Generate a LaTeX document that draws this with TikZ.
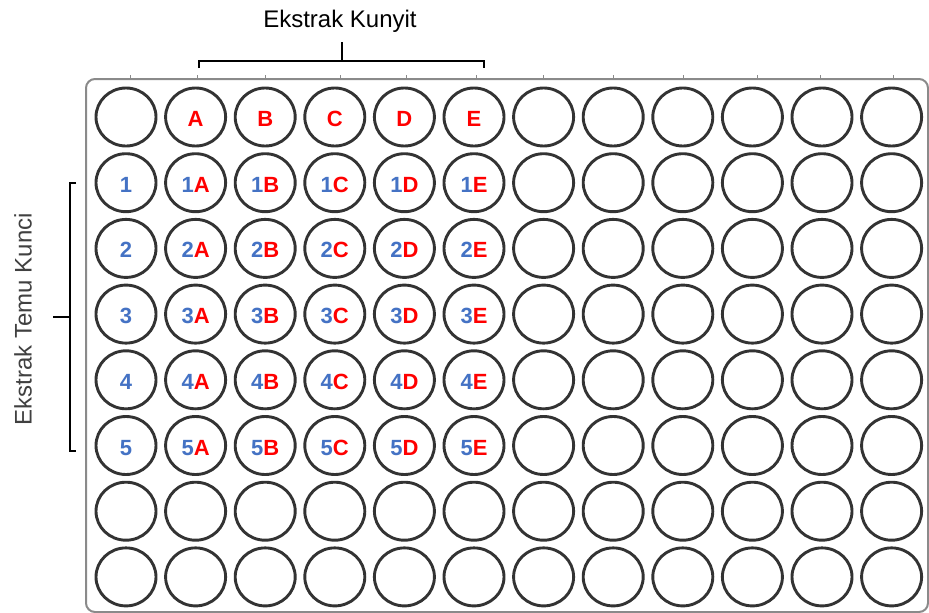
\documentclass[tikz,border=0pt]{standalone}
\usepackage{fontspec}
\setmainfont{Liberation Sans}
\usetikzlibrary{shapes.geometric}
\definecolor{wellblue}{HTML}{4472C4}
\definecolor{wellred}{HTML}{FF0000}
\definecolor{rim}{HTML}{333333}
\definecolor{plateedge}{HTML}{8A8A8A}
\definecolor{sidetext}{HTML}{404040}
\begin{document}
\begin{tikzpicture}[x=1pt,y=-1pt,
  well/.style={draw=rim,line width=2.9pt,ellipse,minimum width=60pt,minimum height=58pt,inner sep=0pt},
  lbl/.style={inner sep=0pt,text height=16pt,text depth=0pt,yshift=-1.5pt,font=\fontsize{22}{26}\selectfont\bfseries},
  bracket/.style={draw=black,line width=1.8pt},
  title/.style={inner sep=0pt,font=\fontsize{24}{28}\selectfont},
  tickmark/.style={draw=plateedge,line width=1pt}]
\useasboundingbox (0,0) rectangle (929,613);
\fill[white] (0,0) rectangle (929,613);
% plate
\draw[draw=plateedge,line width=2pt,rounded corners=9pt] (86,79) rectangle (928,612);
% small marks on the plate top edge
\foreach \x in {130,197,265,340,406,476,543,613,683,757,820,893}
  \draw[tickmark] (\x,75) -- (\x,78);
% wells
\foreach \c in {0,...,11}
  \foreach \r in {0,...,7}
    \node[well] (w-\r-\c) at ({126+69.6*\c},{117+65.7*\r}) {};
% row of letters
\foreach \L [count=\i] in {A,B,C,D,E}
  \node[lbl,text=wellred] (t-0-\i) at (w-0-\i) {\L};
% numbered rows
\foreach \n in {1,...,5} {
  \node[lbl,text=wellblue] (t-\n-0) at (w-\n-0) {\n};
  \foreach \L [count=\i] in {A,B,C,D,E}
    \node[lbl] (t-\n-\i) at (w-\n-\i) {\textcolor{wellblue}{\n}\textcolor{wellred}{\L}};
}
% top bracket
\coordinate (tb1) at (199,68);
\coordinate (tb2) at (199,61);
\coordinate (tb3) at (484,61);
\coordinate (tb4) at (484,68);
\coordinate (tbm) at (342,61);
\coordinate (tbt) at (342,42);
\draw[bracket] (tb1) -- (tb2) -- (tb3) -- (tb4);
\draw[bracket] (tbm) -- (tbt);
\node[title] (toplabel) at (340,21) {Ekstrak Kunyit};
% left bracket
\coordinate (lb1) at (76,183);
\coordinate (lb2) at (70,183);
\coordinate (lb3) at (70,451);
\coordinate (lb4) at (76,451);
\coordinate (lbm) at (70,317);
\coordinate (lbt) at (53,317);
\draw[bracket] (lb1) -- (lb2) -- (lb3) -- (lb4);
\draw[bracket] (lbm) -- (lbt);
\node[title,text=sidetext,rotate=90] (sidelabel) at (23,319) {Ekstrak Temu Kunci};
\end{tikzpicture}
\end{document}
